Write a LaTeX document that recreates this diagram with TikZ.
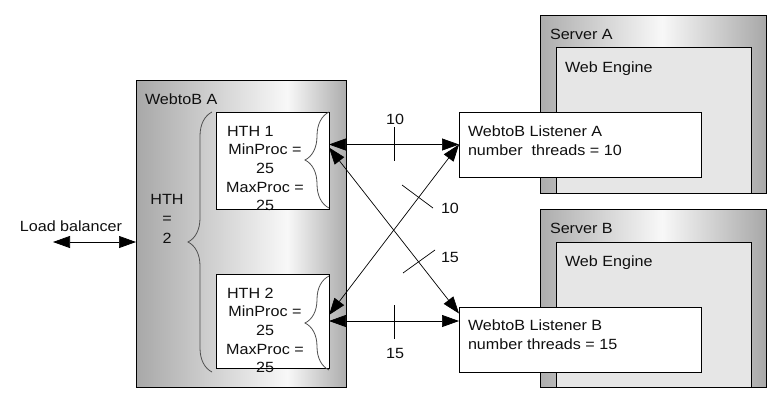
\documentclass[tikz,border=0pt]{standalone}
\usepackage{fontspec}
\setmainfont{Liberation Sans}[FakeStretch=1.09]
\usetikzlibrary{arrows.meta,decorations.pathreplacing}
\definecolor{gL}{HTML}{A8A8A8}
\definecolor{gR}{HTML}{ADADAD}
\definecolor{gW}{HTML}{F8F8F8}
\definecolor{engfill}{HTML}{E6E6E6}
\definecolor{txt}{HTML}{101010}
\definecolor{bracec}{HTML}{505050}
\pgfdeclarehorizontalshading{wgrad}{100bp}{color(0bp)=(gL); color(25bp)=(gL); color(61bp)=(gW); color(75bp)=(gR); color(100bp)=(gR)}
\pgfdeclarehorizontalshading{sgrad}{100bp}{color(0bp)=(gR); color(25bp)=(gR); color(52bp)=(gW); color(75bp)=(gL); color(100bp)=(gL)}
\begin{document}
\begin{tikzpicture}[x=1pt,y=-1pt,
  every node/.style={inner sep=0pt, outer sep=0pt, text=txt, font=\fontsize{14.8}{18.5}\selectfont},
  gradbox/.style={draw=black, line width=0.9pt, rectangle},
  whitebox/.style={draw=black, line width=0.9pt, fill=white, rectangle},
  engbox/.style={draw=black, line width=0.9pt, fill=engfill, rectangle},
  biarrow/.style={draw=black, line width=0.7pt, {Triangle[length=17pt,width=12pt]}-{Triangle[length=17pt,width=12pt]}},
  tick/.style={draw=black, line width=0.7pt},
  bracestyle/.style={draw=bracec, line width=0.8pt, decorate, decoration={brace, amplitude=24pt}},
  lbl/.style={anchor=base west},
  clbl/.style={anchor=base}
]
\useasboundingbox (0,0) rectangle (776,400);
\fill[white] (0,0) rectangle (776,400);

% WebtoB A
\node[gradbox, shading=wgrad, minimum width=210pt, minimum height=307pt] (wA) at (241,233.5) {};
\node[lbl] (wAt) at (145,104) {WebtoB A};

% HTH boxes
\node[whitebox, minimum width=113pt, minimum height=97pt] (hth1) at (272.5,160.5) {};
\node[whitebox, minimum width=113pt, minimum height=94pt] (hth2) at (272.5,321) {};

\node[lbl] (h1a) at (227,136) {HTH 1};
\node[clbl] (h1b) at (265,154) {MinProc =};
\node[clbl] (h1c) at (265,173) {25};
\node[clbl] (h1d) at (265,192) {MaxProc =};
\node[clbl] (h1e) at (265,210) {25};

\node[lbl] (h2a) at (227,298) {HTH 2};
\node[clbl] (h2b) at (265,316) {MinProc =};
\node[clbl] (h2c) at (265,335) {25};
\node[clbl] (h2d) at (265,354) {MaxProc =};
\node[clbl] (h2e) at (265,372) {25};

\node[clbl] (hthA) at (167,204) {HTH};
\node[clbl] (hthB) at (167,223.5) {=};
\node[clbl] (hthC) at (167,243) {2};

% braces
\coordinate (bo1) at (212,372);
\coordinate (bo2) at (212,112);
\draw[bracestyle] (bo1) -- (bo2);
\coordinate (bi1) at (329,208);
\coordinate (bi2) at (329,112);
\draw[bracestyle] (bi1) -- (bi2);
\coordinate (bj1) at (329,370);
\coordinate (bj2) at (329,276);
\draw[bracestyle] (bj1) -- (bj2);

% Server A
\node[gradbox, shading=sgrad, minimum width=226pt, minimum height=178pt] (sA) at (653,104) {};
\node[engbox, minimum width=195pt, minimum height=146pt] (eA) at (653.5,120) {};
\node[lbl] (sAt) at (550,39) {Server A};
\node[lbl] (eAt) at (565,72) {Web Engine};
\node[whitebox, minimum width=242pt, minimum height=65pt] (lisA) at (580,144.5) {};
\node[lbl] (lAa) at (468,136) {WebtoB Listener A};
\node[lbl] (lAb) at (468,155) {number\ \ threads = 10};

% Server B
\node[gradbox, shading=sgrad, minimum width=226pt, minimum height=178pt] (sB) at (653,298) {};
\node[engbox, minimum width=195pt, minimum height=145pt] (eB) at (653.5,314.5) {};
\node[lbl] (sBt) at (550,233) {Server B};
\node[lbl] (eBt) at (565,266) {Web Engine};
\node[whitebox, minimum width=242pt, minimum height=65pt] (lisB) at (580,339.5) {};
\node[lbl] (lBa) at (468,330) {WebtoB Listener B};
\node[lbl] (lBb) at (468,349) {number threads = 15};

% Load balancer
\coordinate (lb) at (53,242);
\draw[biarrow] (lb) -- ([yshift=-8.5pt]wA.west);
\node[clbl] (lbt) at (71,231) {Load balancer};

% connections
\draw[biarrow] (lisA.west -| hth1.east) -- (lisA.west);
\draw[biarrow] (hth2.east) -- (hth2.east -| lisB.west);
\draw[biarrow] ([yshift=13pt]hth1.east) -- ([yshift=26pt]lisB.west);
\draw[biarrow] ([yshift=6pt]hth2.east) -- (lisA.west);

% ticks
\draw[tick] (394,127) -- (394,161);
\draw[tick] (394,305) -- (394,339);
\draw[tick] (402,185) -- (433,208);
\draw[tick] (403,273) -- (435,250);

\node[clbl] (n1) at (395,124) {10};
\node[clbl] (n2) at (395,358) {15};
\node[lbl] (n3) at (441,213) {10};
\node[lbl] (n4) at (441,262) {15};
\end{tikzpicture}
\end{document}
